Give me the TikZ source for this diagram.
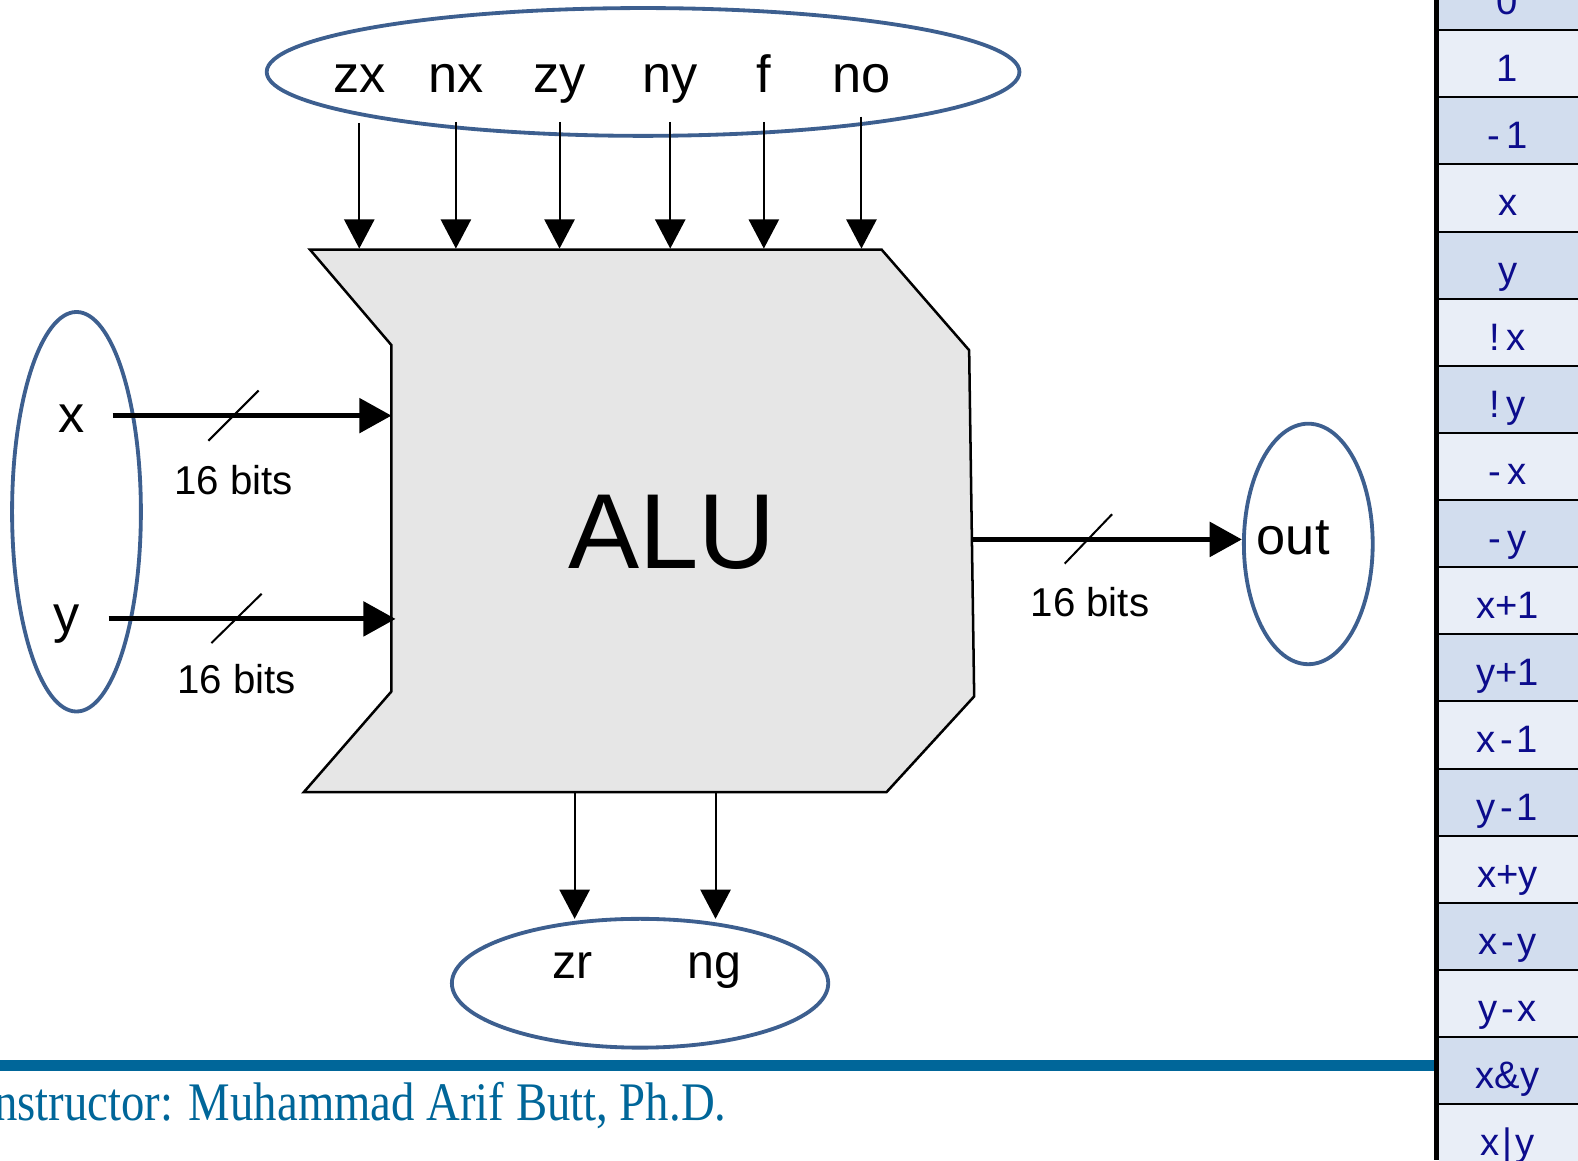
\documentclass[tikz,border=0pt]{standalone}
\usepackage{fontspec}
\setmainfont{Liberation Sans}
\newfontfamily\footfont[FakeStretch=0.86]{Liberation Serif}
\usetikzlibrary{arrows.meta,shapes.geometric}
\definecolor{ellblue}{HTML}{3D5F8F}
\definecolor{footblue}{HTML}{006699}
\definecolor{navytxt}{RGB}{12,12,140}
\definecolor{rowdark}{HTML}{D2DDEE}
\definecolor{rowlight}{HTML}{E9EEF7}
\definecolor{alugray}{HTML}{E6E6E6}
\begin{document}
\begin{tikzpicture}[x=1pt,y=-1pt,
  lbl/.style={font=\fontsize{52}{60}\selectfont, inner sep=0pt, anchor=base},
  bitslbl/.style={font=\fontsize{40}{48}\selectfont, inner sep=0pt, anchor=base},
  alulbl/.style={font=\fontsize{106}{120}\selectfont, inner sep=0pt, anchor=base},
  ell/.style={ellipse, draw=ellblue, line width=3.8pt, inner sep=0pt},
  thinarrow/.style={line width=2pt, -{Triangle[width=30pt,length=29pt]}},
  thickarrow/.style={line width=5pt, -{Triangle[width=34pt,length=32pt]}},
  slash/.style={line width=2pt},
  celltxt/.style={font=\fontsize{38}{44}\selectfont, text=navytxt, inner sep=0pt, anchor=base}]
\useasboundingbox (0,0) rectangle (1568,1153);
\clip (0,0) rectangle (1568,1153);

% ellipses
\node[ell, minimum width=748pt, minimum height=127pt] (ctrl) at (639,71.5) {};
\node[ell, minimum width=128pt, minimum height=397pt] (inp) at (76,508.5) {};
\node[ell, minimum width=128pt, minimum height=239pt] (outp) at (1300,540.5) {};
\node[ell, minimum width=374pt, minimum height=128pt] (flags) at (636,977) {};

% ALU body
\coordinate (A) at (308,248);
\coordinate (B) at (876,248);
\coordinate (C) at (963,348);
\coordinate (D) at (968,692);
\coordinate (E) at (881,787);
\coordinate (F) at (302,787);
\coordinate (G) at (389,687);
\coordinate (H) at (389,343);
\draw[fill=alugray, line width=2.5pt, line join=miter] (A) -- (B) -- (C) -- (D) -- (E) -- (F) -- (G) -- (H) -- cycle;
\node[alulbl] (alu) at (668,565) {ALU};

% control labels and arrows
\foreach \nm/\xx/\ys in {zx/357/122, nx/453/121, zy/556/121, ny/666/121, f/759/121, no/856/116} {
  \node[lbl] (\nm) at (\xx,92) {\nm};
  \coordinate (\nm s) at (\xx,\ys);
  \coordinate (\nm e) at (\xx,247);
  \draw[thinarrow] (\nm s) -- (\nm e);
}

% inputs
\node[lbl] (xl) at (71,430) {x};
\node[lbl] (yl) at (66,628) {y};
\coordinate (xs) at (112,413);
\coordinate (xe) at (389,413);
\coordinate (ys) at (108,615);
\coordinate (ye) at (393,615);
\draw[thickarrow] (xs) -- (xe);
\draw[thickarrow] (ys) -- (ye);
\draw[slash] (207,438) -- (257,388);
\draw[slash] (210,639) -- (260,590);
\node[bitslbl] (xb) at (232,491) {16 bits};
\node[bitslbl] (yb) at (235,689) {16 bits};

% output
\coordinate (os) at (966,536);
\coordinate (oe) at (1234,536);
\draw[thickarrow] (os) -- (oe);
\draw[slash] (1058,560) -- (1105,511);
\node[bitslbl] (ob) at (1083,613) {16 bits};
\node[lbl] (outl) at (1285,551) {out};

% flags
\coordinate (zrs) at (571,788);
\coordinate (zre) at (571,913);
\coordinate (ngs) at (711,788);
\coordinate (nge) at (711,913);
\draw[thinarrow] (zrs) -- (zre);
\draw[thinarrow] (ngs) -- (nge);
\node[lbl, font=\fontsize{48}{56}\selectfont] (zr) at (569,972) {zr};
\node[lbl, font=\fontsize{48}{56}\selectfont] (ng) at (710,972) {ng};

% footer
\fill[footblue] (0,1053) rectangle (1427,1064);
\node[font=\footfont\fontsize{54}{60}\selectfont, text=footblue, anchor=base east, inner sep=0pt] (foot) at (722,1113) {Instructor: Muhammad Arif Butt, Ph.D.};

% table
\foreach \t [count=\i from 0] in {0,1,-\kern6pt1,x,y,!\kern6pt x,!\kern6pt y,-\kern6pt x,-\kern6pt y,x+1,y+1,x\kern4pt-\kern4pt1,y\kern4pt-\kern4pt1,x+y,x\kern4pt-\kern4pt y,y\kern4pt-\kern4pt x,x\&y,x\kern3pt|\kern3pt y} {
  \pgfmathsetmacro\rtop{-35.7+66.7*\i}
  \pgfmathsetmacro\rbot{31+66.7*\i}
  \ifodd\i \def\fc{rowlight}\else\def\fc{rowdark}\fi
  \fill[\fc] (1430,\rtop) rectangle (1568,\rbot);
  \node[celltxt] (r\i) at (1498,\rbot-16.5) {\t};
  \draw[line width=4pt] (1427,\rbot) -- (1568,\rbot);
}
\draw[line width=5pt] (1427,0) -- (1427,1153);
\end{tikzpicture}
\end{document}
